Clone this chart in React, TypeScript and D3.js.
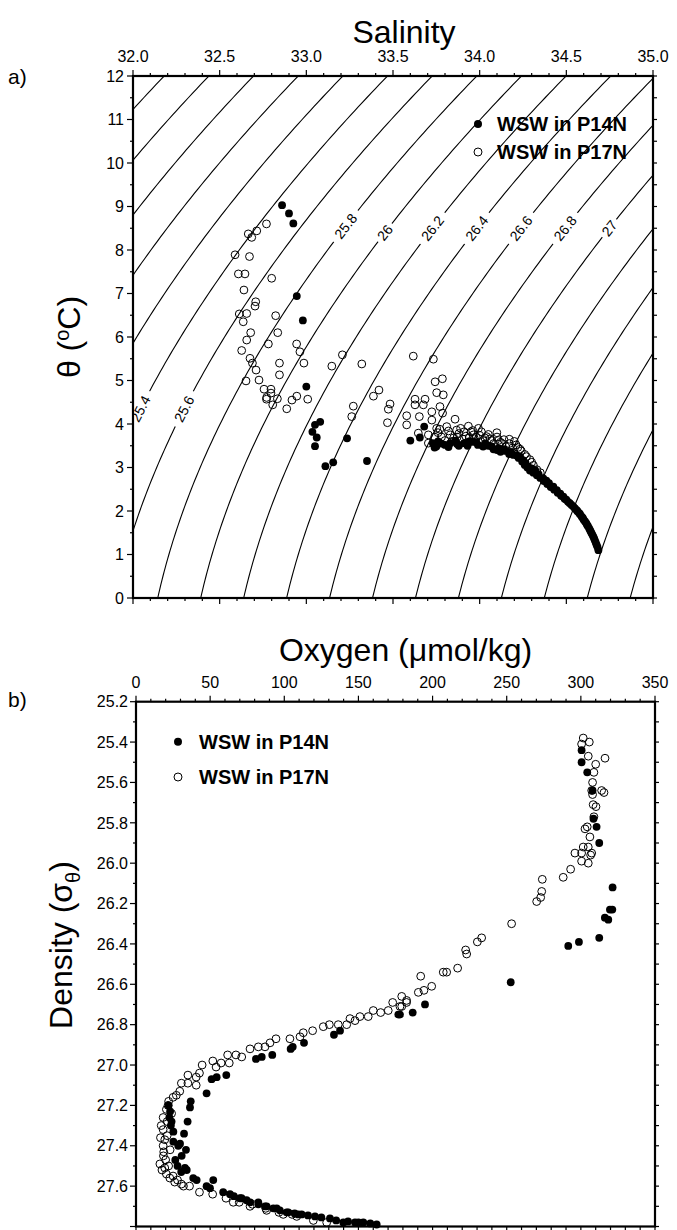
import React from 'react';
import * as d3 from 'd3';

// ---- panel a: theta / salinity ----
const salinityTicks = [32.0, 32.5, 33.0, 33.5, 34.0, 34.5, 35.0];
const thetaTicks = [0, 1, 2, 3, 4, 5, 6, 7, 8, 9, 10, 11, 12];

// isopycnals drawn (sigma-theta), and the ones that carry a label
const isopycnals = [24.4, 24.6, 24.8, 25.0, 25.2, 25.4, 25.6, 25.8, 26.0, 26.2, 26.4, 26.6, 26.8, 27.0, 27.2, 27.4, 27.6, 27.8, 28.0];
const labelledIsopycnals = [25.4, 25.6, 25.8, 26.0, 26.2, 26.4, 26.6, 26.8, 27.0];
const labelTheta = [4.35, 4.35, 8.55, 8.4, 8.5, 8.5, 8.5, 8.5, 8.5];

// [salinity, theta]
const p14nTS = [
  [32.86, 9.03], [32.90, 8.84], [32.925, 8.61], [32.945, 6.94], [32.98, 6.38], [33.00, 4.86],
  [33.05, 3.98], [33.08, 4.05], [33.035, 3.82], [33.06, 3.69], [33.05, 3.49],
  [33.11, 3.03], [33.155, 3.12], [33.235, 3.67], [33.35, 3.15],
  [33.60, 3.62], [33.655, 3.69], [33.68, 3.94], [33.74, 3.46], [33.73, 3.56], [33.76, 3.60],
  [33.80, 3.52], [33.83, 3.56], [33.86, 3.62], [33.88, 3.50], [33.91, 3.56], [33.94, 3.60],
  [33.96, 3.59], [33.99, 3.52], [34.02, 3.48], [34.05, 3.50], [34.08, 3.42], [34.10, 3.40],
  [34.12, 3.36], [34.15, 3.38], [34.17, 3.31], [34.195, 3.29], [34.215, 3.27], [34.233, 3.25],
  [34.25, 3.17], [34.265, 3.10], [34.28, 3.02], [34.30, 2.98], [34.32, 2.94], [34.34, 2.85],
  [34.367, 2.75], [34.385, 2.70], [34.40, 2.64], [34.425, 2.56], [34.445, 2.48], [34.465, 2.40],
  [34.483, 2.33], [34.50, 2.26], [34.52, 2.18], [34.541, 2.10], [34.56, 2.02], [34.575, 1.95],
  [34.589, 1.87], [34.60, 1.80], [34.615, 1.72], [34.625, 1.65], [34.637, 1.56], [34.647, 1.48],
  [34.657, 1.40], [34.665, 1.32], [34.675, 1.22], [34.685, 1.10],
  [34.225, 3.22], [34.245, 3.14], [34.26, 3.06], [34.275, 3.00], [34.29, 2.93], [34.31, 2.88],
  [34.33, 2.82], [34.35, 2.76], [34.37, 2.69], [34.39, 2.62], [34.41, 2.55], [34.43, 2.49],
  [34.45, 2.42], [34.47, 2.35], [34.49, 2.28], [34.51, 2.21], [34.53, 2.14], [34.55, 2.06],
  [34.565, 1.99], [34.58, 1.92], [34.595, 1.84], [34.608, 1.76], [34.62, 1.68], [34.632, 1.60],
  [34.642, 1.52], [34.652, 1.44], [34.661, 1.36], [34.67, 1.27], [34.68, 1.17],
  [33.75, 3.48], [33.78, 3.55], [33.82, 3.47], [33.87, 3.54], [33.93, 3.50], [33.98, 3.58],
  [34.03, 3.55], [34.07, 3.48], [34.11, 3.44], [34.14, 3.42], [34.18, 3.36],
];

const p17nTS = [
  [32.77, 8.60], [32.714, 8.44], [32.665, 8.37], [32.685, 8.29], [32.589, 7.89], [32.672, 7.85],
  [32.608, 7.45], [32.646, 7.45], [32.80, 7.35], [32.64, 7.08], [32.708, 6.81], [32.704, 6.71],
  [32.613, 6.53], [32.656, 6.54], [32.636, 6.35], [32.823, 6.49], [32.835, 6.10], [32.679, 6.10],
  [32.656, 5.93], [32.781, 5.84], [32.944, 5.84], [32.963, 5.66], [32.627, 5.69], [32.675, 5.51],
  [32.689, 5.40], [32.845, 5.40], [32.986, 5.40], [32.71, 5.24], [32.845, 5.13], [32.727, 5.01],
  [32.652, 4.99], [32.756, 4.80], [32.796, 4.80], [32.796, 4.71], [32.771, 4.61], [32.77, 4.57],
  [32.833, 4.58], [32.917, 4.55], [32.945, 4.64], [33.008, 4.57], [32.806, 4.44], [32.887, 4.35],
  [33.147, 5.33], [33.208, 5.59], [33.32, 5.38], [33.271, 4.41], [33.262, 4.17], [33.387, 4.64],
  [33.419, 4.78], [33.483, 4.46], [33.473, 4.34], [33.468, 4.03], [33.579, 4.19], [33.579, 3.98],
  [33.617, 5.56], [33.733, 5.49], [33.627, 4.57], [33.685, 4.57], [33.627, 4.44], [33.652, 4.17],
  [33.675, 4.44], [33.743, 4.97], [33.785, 5.04], [33.752, 4.72], [33.79, 4.67], [33.771, 4.40],
  [33.724, 4.28], [33.786, 4.25], [33.724, 4.09], [33.752, 3.90], [33.646, 3.79], [33.704, 3.75],
  [33.704, 3.56], [33.81, 3.94], [33.858, 4.11], [33.867, 3.86], [33.935, 3.95], [33.993, 3.90],
  [33.964, 3.75], [34.04, 3.71], [34.099, 3.80], [34.108, 3.62], [34.171, 3.65], [34.233, 3.42],
  [33.76, 3.80], [33.78, 3.70], [33.80, 3.62], [33.83, 3.75], [33.85, 3.68], [33.88, 3.78],
  [33.90, 3.66], [33.92, 3.72], [33.95, 3.82], [33.97, 3.66], [34.00, 3.74], [34.02, 3.62],
  [34.06, 3.66], [34.08, 3.55], [34.13, 3.55], [34.15, 3.48], [34.19, 3.45], [34.21, 3.52],
  [34.26, 3.30], [34.29, 3.18], [34.31, 3.05], [34.33, 2.95], [34.35, 2.88],
  [33.74, 3.70], [33.77, 3.88], [33.82, 3.84], [33.84, 3.60], [33.87, 3.70], [33.89, 3.90],
  [33.91, 3.82], [33.94, 3.68], [33.96, 3.85], [33.98, 3.70], [34.01, 3.82], [34.03, 3.68],
  [34.05, 3.76], [34.07, 3.62], [34.10, 3.70], [34.12, 3.58], [34.14, 3.64], [34.17, 3.55],
  [34.20, 3.60], [34.22, 3.46], [34.24, 3.38], [34.27, 3.25], [34.30, 3.12],
];

// ---- panel b: oxygen / density ----
const oxygenTicks = [0, 50, 100, 150, 200, 250, 300, 350];
const densityTicks = [25.2, 25.4, 25.6, 25.8, 26.0, 26.2, 26.4, 26.6, 26.8, 27.0, 27.2, 27.4, 27.6];

// [oxygen, sigma-theta]
const p14nOD = [
  [300.5, 25.44], [300.5, 25.50], [304.3, 25.55], [307.9, 25.64], [308.5, 25.78], [310.6, 25.82],
  [312.4, 25.90], [321.4, 26.12], [319.6, 26.23], [321.2, 26.23], [316.2, 26.27], [318.5, 26.28],
  [312.4, 26.37], [298.7, 26.39], [291.5, 26.41], [252.7, 26.59],
  [194.9, 26.70], [186.6, 26.74], [178, 26.75], [176.9, 26.75], [137.6, 26.83], [133.5, 26.85],
  [113.3, 26.89], [105.7, 26.91], [104.3, 26.92], [91.9, 26.95], [84.8, 26.96], [80.9, 26.97],
  [60.9, 27.05], [54.4, 27.06], [51.0, 27.07], [47.6, 27.14], [36.9, 27.18], [36.4, 27.21],
  [34.8, 27.28], [32.4, 27.34], [29.7, 27.39], [33.7, 27.42], [33.0, 27.51], [34.2, 27.52],
  [38.6, 27.56], [40.9, 27.57], [47.6, 27.60], [52.1, 27.57], [49.9, 27.61], [58.8, 27.63],
  [63.4, 27.64], [71.2, 27.66], [74.6, 27.67], [82.5, 27.68], [88.1, 27.70], [94.9, 27.71],
  [101.6, 27.73], [109.4, 27.74],
  [23.0, 27.23], [22.5, 27.26], [23.5, 27.30], [25.2, 27.33], [25.2, 27.38], [28.5, 27.40],
  [30.8, 27.45], [26.5, 27.47], [28.0, 27.50], [30.5, 27.53], [24.0, 27.28], [22.0, 27.20],
  [70.1, 27.66], [82.5, 27.69], [92.6, 27.71], [102.7, 27.73], [111.7, 27.74], [120.7, 27.75],
  [130.8, 27.76], [139.8, 27.78], [147.7, 27.78], [153.3, 27.78], [162.3, 27.79],
  [66, 27.65], [77, 27.68], [87, 27.70], [97, 27.72], [107, 27.735], [116, 27.745],
  [125, 27.755], [135, 27.77], [143, 27.775], [150, 27.78], [158, 27.785],
];

const p17nOD = [
  [301.6, 25.38], [300.5, 25.41], [305.7, 25.40], [305, 25.47], [316.3, 25.48], [310, 25.51],
  [308.8, 25.55], [307.9, 25.60], [307.3, 25.64], [314, 25.64], [315.6, 25.65], [307.9, 25.66],
  [308.3, 25.71], [310.2, 25.72], [308.8, 25.77], [304.3, 25.82], [302.8, 25.83], [306.1, 25.87],
  [301.6, 25.92], [305, 25.92], [296, 25.95], [300.5, 25.95], [307.3, 25.95], [306.6, 25.96],
  [300.5, 25.99], [305, 26.00], [293.1, 26.03], [288.1, 26.07], [274, 26.08], [273.6, 26.14],
  [272.9, 26.17], [270.2, 26.19], [253.3, 26.30], [233.1, 26.37], [230.2, 26.39], [222.3, 26.43],
  [223, 26.45], [216.9, 26.52], [209.5, 26.54], [207.2, 26.54], [192, 26.56], [199.4, 26.61],
  [194.2, 26.63], [190.4, 26.64], [179.2, 26.66], [182.5, 26.69], [179.2, 26.71],
  [182.5, 26.68], [178, 26.71], [173.1, 26.69], [170.1, 26.73], [165, 26.74], [160, 26.73],
  [156.6, 26.76], [151, 26.76], [147.7, 26.78], [144.3, 26.77], [142.1, 26.80], [136.4, 26.80],
  [130.4, 26.80], [126.3, 26.81], [119.1, 26.83], [112.8, 26.84], [110.6, 26.86], [103.8, 26.87],
  [94.4, 26.87], [90.4, 26.89], [87, 26.91], [82.5, 26.91], [76.9, 26.92], [71.3, 26.96],
  [67.4, 26.95], [61.8, 26.95], [57.4, 26.99], [62.9, 26.99], [51.8, 26.98], [54, 27.01],
  [44.6, 27.00], [42.8, 27.04], [40.6, 27.06], [35, 27.05], [35, 27.09], [30.6, 27.09],
  [40.6, 27.10], [29.5, 27.13], [27.2, 27.15], [25, 27.16], [21.6, 27.20], [20.5, 27.22],
  [18.3, 27.26], [18.3, 27.32], [19.4, 27.37], [18.3, 27.40], [18.7, 27.43], [18.5, 27.45],
  [16.1, 27.49], [19.4, 27.51], [20.5, 27.54], [22.8, 27.56], [26.1, 27.58], [30.6, 27.59],
  [36.1, 27.60], [42.8, 27.63], [51.7, 27.64], [60.7, 27.66], [69.6, 27.68], [78.5, 27.69],
  [87.5, 27.71], [96.4, 27.73], [105.3, 27.74],
  [22, 27.18], [24, 27.24], [21, 27.28], [17, 27.30], [16.5, 27.36], [21, 27.35], [23, 27.42],
  [20, 27.47], [22, 27.50], [17.5, 27.52], [25, 27.55], [28, 27.57], [32, 27.60],
  [65.6, 27.68], [76.9, 27.70], [88.1, 27.72], [99.3, 27.74], [108.4, 27.75], [119.6, 27.77],
  [128.6, 27.78],
];

const seriesNames = ['WSW in P14N', 'WSW in P17N'];

// UNESCO (EOS-80) density at surface pressure, minus 1000
function sigmaTheta(s: number, t: number) {
  const rw = 999.842594 + 6.793952e-2 * t - 9.09529e-3 * t * t + 1.001685e-4 * t ** 3
    - 1.120083e-6 * t ** 4 + 6.536332e-9 * t ** 5;
  const a = 8.24493e-1 - 4.0899e-3 * t + 7.6438e-5 * t * t - 8.2467e-7 * t ** 3 + 5.3875e-9 * t ** 4;
  const b = -5.72466e-3 + 1.0227e-4 * t - 1.6546e-6 * t * t;
  return rw + a * s + b * s ** 1.5 + 4.8314e-4 * s * s - 1000;
}

function isoSalinity(level: number, t: number) {
  let lo = 28, hi = 38;
  for (let i = 0; i < 40; i++) {
    const mid = (lo + hi) / 2;
    if (sigmaTheta(mid, t) < level) lo = mid; else hi = mid;
  }
  return (lo + hi) / 2;
}

const FONT = 'Arial, "Liberation Sans", Helvetica, sans-serif';

function App() {
  const xA = d3.scaleLinear().domain([32, 35]).range([133, 653]);
  const yA = d3.scaleLinear().domain([0, 12]).range([598, 76]);
  const xB = d3.scaleLinear().domain([0, 350]).range([136, 655]);
  const yB = d3.scaleLinear().domain([25.2, 27.8]).range([701.7, 1226.5]);

  const thetaSamples = d3.range(-0.5, 12.6, 0.1);

  const isoPath = (level: number) =>
    d3.line<number>()
      .x(t => xA(isoSalinity(level, t)))
      .y(t => yA(t))(thetaSamples) as string;

  const labelInfo = labelledIsopycnals.map((lev, i) => {
    const t0 = labelTheta[i];
    const s0 = isoSalinity(lev, t0);
    const s1 = isoSalinity(lev, t0 + 0.2);
    const px = xA(s0), py = yA(t0);
    const dx = xA(s1) - px, dy = yA(t0 + 0.2) - py;
    const ang = (Math.atan2(dy, dx) * 180) / Math.PI;
    return { px, py, ang, txt: String(lev) };
  });

  const tick = (x1: number, y1: number, x2: number, y2: number, key: string) => (
    <line key={key} x1={x1} y1={y1} x2={x2} y2={y2} stroke="#000" strokeWidth={1.2} />
  );

  // ---- panel a ticks ----
  const aTicks: any[] = [];
  d3.range(0, 31).forEach(i => {
    const s = 32 + i * 0.1;
    const major = i % 5 === 0;
    aTicks.push(tick(xA(s), 76, xA(s), 76 - (major ? 6 : 3), 'at' + i));
    aTicks.push(tick(xA(s), 598, xA(s), 598 + (major ? 6 : 3), 'ab' + i));
  });
  d3.range(0, 25).forEach(i => {
    const t = i * 0.5;
    const major = i % 2 === 0;
    aTicks.push(tick(133, yA(t), 133 - (major ? 6 : 3), yA(t), 'al' + i));
    aTicks.push(tick(653, yA(t), 653 + 4, yA(t), 'ar' + i));
  });

  // ---- panel b ticks ----
  const bTicks: any[] = [];
  d3.range(0, 36).forEach(i => {
    const o = i * 10;
    const major = i % 5 === 0;
    bTicks.push(tick(xB(o), 701.7, xB(o), 701.7 - (major ? 6 : 3), 'bt' + i));
    bTicks.push(tick(xB(o), 1226.5, xB(o), 1226.5 + (major ? 6 : 4), 'bb' + i));
  });
  d3.range(0, 27).forEach(i => {
    const d = 25.2 + i * 0.1;
    const major = i % 2 === 0;
    bTicks.push(tick(136, yB(d), 136 - (major ? 6 : 3), yB(d), 'bl' + i));
    bTicks.push(tick(655, yB(d), 655 + 4, yB(d), 'br' + i));
  });

  const r = 3.9;

  return (
    <svg width={677} height={1230} style={{ position: 'absolute', left: 0, top: 0, background: '#fff' }}
      fontFamily={FONT}>
      <defs>
        <clipPath id="clipA">
          <rect x={133} y={76} width={520} height={522} />
        </clipPath>
      </defs>
      <rect x={0} y={0} width={677} height={1230} fill="#fff" />

      {/* ================= panel a ================= */}
      <text x={8} y={84} fontSize={21}>a)</text>
      <text x={(133 + 653) / 2 + 11} y={43} fontSize={32} textAnchor="middle">Salinity</text>

      <g clipPath="url(#clipA)">
        {isopycnals.map(lev => (
          <path key={lev} d={isoPath(lev)} fill="none" stroke="#000" strokeWidth={1.1} />
        ))}
        {labelInfo.map(l => (
          <g key={l.txt} transform={`translate(${l.px},${l.py}) rotate(${l.ang})`}>
            <rect x={-l.txt.length * 4.2 - 3} y={-7} width={l.txt.length * 8.4 + 6} height={14} fill="#fff" />
            <text x={0} y={0} fontSize={14} textAnchor="middle" dominantBaseline="central">{l.txt}</text>
          </g>
        ))}
      </g>

      {p14nTS.map((d, i) => (
        <circle key={'fa' + i} cx={xA(d[0])} cy={yA(d[1])} r={r} fill="#000" />
      ))}
      {p17nTS.map((d, i) => (
        <circle key={'oa' + i} cx={xA(d[0])} cy={yA(d[1])} r={r} fill="none" stroke="#000" strokeWidth={1} />
      ))}

      {aTicks}
      <rect x={133} y={76} width={520} height={522} fill="none" stroke="#000" strokeWidth={2.2} />

      {salinityTicks.map(s => (
        <text key={s} x={xA(s)} y={62} fontSize={16} textAnchor="middle">{s.toFixed(1)}</text>
      ))}
      {thetaTicks.map(t => (
        <text key={t} x={124} y={yA(t) + 5.7} fontSize={16} textAnchor="end">{t}</text>
      ))}

      <text transform={`translate(80,${(76 + 598) / 2}) rotate(-90)`} fontSize={32} textAnchor="middle">
        θ (<tspan fontSize={20} dy={-11}>o</tspan><tspan dy={11}>C)</tspan>
      </text>

      <circle cx={478} cy={124} r={4} fill="#000" />
      <text x={497} y={130.5} fontSize={20} fontWeight="bold">{seriesNames[0]}</text>
      <circle cx={478} cy={152} r={4} fill="none" stroke="#000" strokeWidth={1} />
      <text x={497} y={158.5} fontSize={20} fontWeight="bold">{seriesNames[1]}</text>

      {/* ================= panel b ================= */}
      <text x={8} y={707} fontSize={21}>b)</text>
      <text x={(136 + 655) / 2 + 10} y={661} fontSize={32} textAnchor="middle">Oxygen (μmol/kg)</text>

      {p14nOD.map((d, i) => (
        <circle key={'fb' + i} cx={xB(d[0])} cy={yB(d[1])} r={r} fill="#000" />
      ))}
      {p17nOD.map((d, i) => (
        <circle key={'ob' + i} cx={xB(d[0])} cy={yB(d[1])} r={r} fill="none" stroke="#000" strokeWidth={1} />
      ))}

      {bTicks}
      <rect x={136} y={701.7} width={519} height={524.8} fill="none" stroke="#000" strokeWidth={2.2} />

      {oxygenTicks.map(o => (
        <text key={o} x={xB(o)} y={688} fontSize={16} textAnchor="middle">{o}</text>
      ))}
      {densityTicks.map(d => (
        <text key={d} x={128} y={yB(d) + 5.7} fontSize={16} textAnchor="end">{d.toFixed(1)}</text>
      ))}

      <text transform={`translate(72,945) rotate(-90)`} fontSize={32} textAnchor="middle">
        Density (σ<tspan fontSize={20} dy={8}>θ</tspan><tspan dy={-8}>)</tspan>
      </text>

      <circle cx={178} cy={741.7} r={4} fill="#000" />
      <text x={199} y={749} fontSize={20} fontWeight="bold">{seriesNames[0]}</text>
      <circle cx={178} cy={777} r={4} fill="none" stroke="#000" strokeWidth={1} />
      <text x={199} y={784} fontSize={20} fontWeight="bold">{seriesNames[1]}</text>
    </svg>
  );
}

export default App;
